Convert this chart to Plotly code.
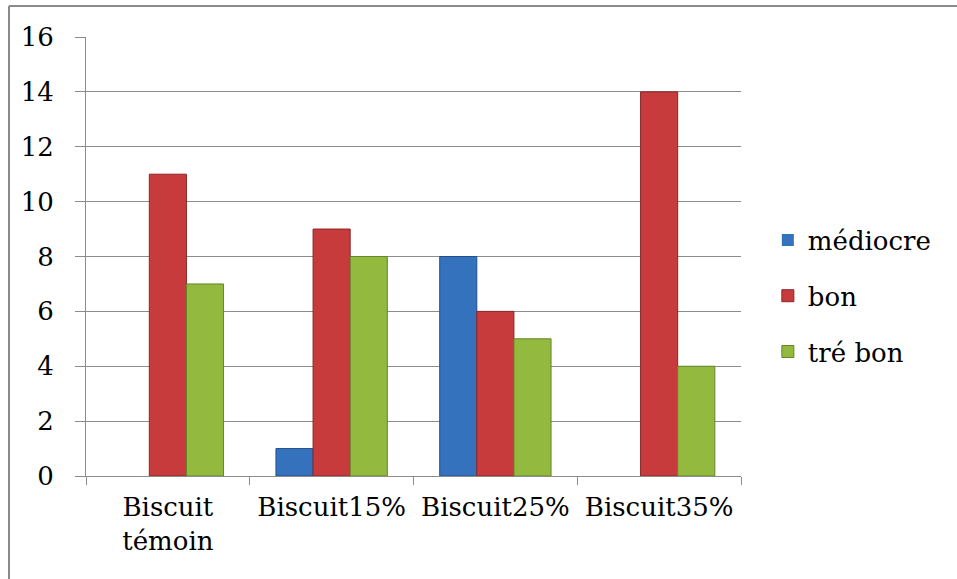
import plotly.graph_objects as go

# Sensory rating counts per biscuit formulation
categories = ["Biscuit<br>témoin", "Biscuit15%", "Biscuit25%", "Biscuit35%"]
mediocre = [0, 1, 8, 0]
bon = [11, 9, 6, 14]
tres_bon = [7, 8, 5, 4]

series = [
    ("médiocre", mediocre, "#3572BE", "#22508A"),
    ("bon", bon, "#C73B3D", "#8A2627"),
    ("tré bon", tres_bon, "#93B93F", "#66842A"),
]

GRID = "#8C8C8C"
FONT = dict(family="DejaVu Serif", size=26, color="#000000")

fig = go.Figure()
for i, (name, vals, fill, edge) in enumerate(series):
    fig.add_trace(go.Bar(
        name=name,
        x=categories,
        y=vals,
        legendgroup=f"g{i}",
        marker=dict(
            color=fill,
            # no outline on empty bars so nothing shows at zero
            line=dict(color=edge, width=[1 if v else 0 for v in vals]),
        ),
        hoverinfo="x+y+name",
    ))

fig.update_layout(
    width=957,
    height=579,
    margin=dict(l=86, r=216, t=37, b=103),
    paper_bgcolor="white",
    plot_bgcolor="white",
    font=FONT,
    barmode="group",
    bargap=0.32,
    bargroupgap=0,
    showlegend=True,
    legend=dict(
        x=1.041, xanchor="left",
        y=0.41, yanchor="middle",
        font=FONT,
        tracegroupgap=19,
        bgcolor="rgba(0,0,0,0)",
        itemwidth=30,
    ),
    xaxis=dict(
        showgrid=False,
        showline=True,
        linecolor=GRID,
        linewidth=1,
        ticks="outside",
        tickson="boundaries",
        ticklen=8,
        tickcolor=GRID,
        tickfont=FONT,
        ticklabelstandoff=8,
    ),
    yaxis=dict(
        range=[0, 16],
        dtick=2,
        showgrid=True,
        gridcolor=GRID,
        gridwidth=1,
        showline=True,
        linecolor=GRID,
        linewidth=1,
        ticks="outside",
        ticklen=10,
        tickcolor=GRID,
        tickfont=FONT,
        ticklabelstandoff=16,
        zeroline=False,
    ),
    shapes=[
        # chart frame (left and top edges)
        dict(type="line", xref="paper", yref="paper",
             x0=(9 - 86) / 655, x1=(9 - 86) / 655, y0=1.0706, y1=-0.25,
             line=dict(color="#8A8A8A", width=2)),
        dict(type="line", xref="paper", yref="paper",
             x0=(9 - 86) / 655, x1=1.35, y0=1.0706, y1=1.0706,
             line=dict(color="#8A8A8A", width=2)),
    ],
)

fig.write_html("out.html")
